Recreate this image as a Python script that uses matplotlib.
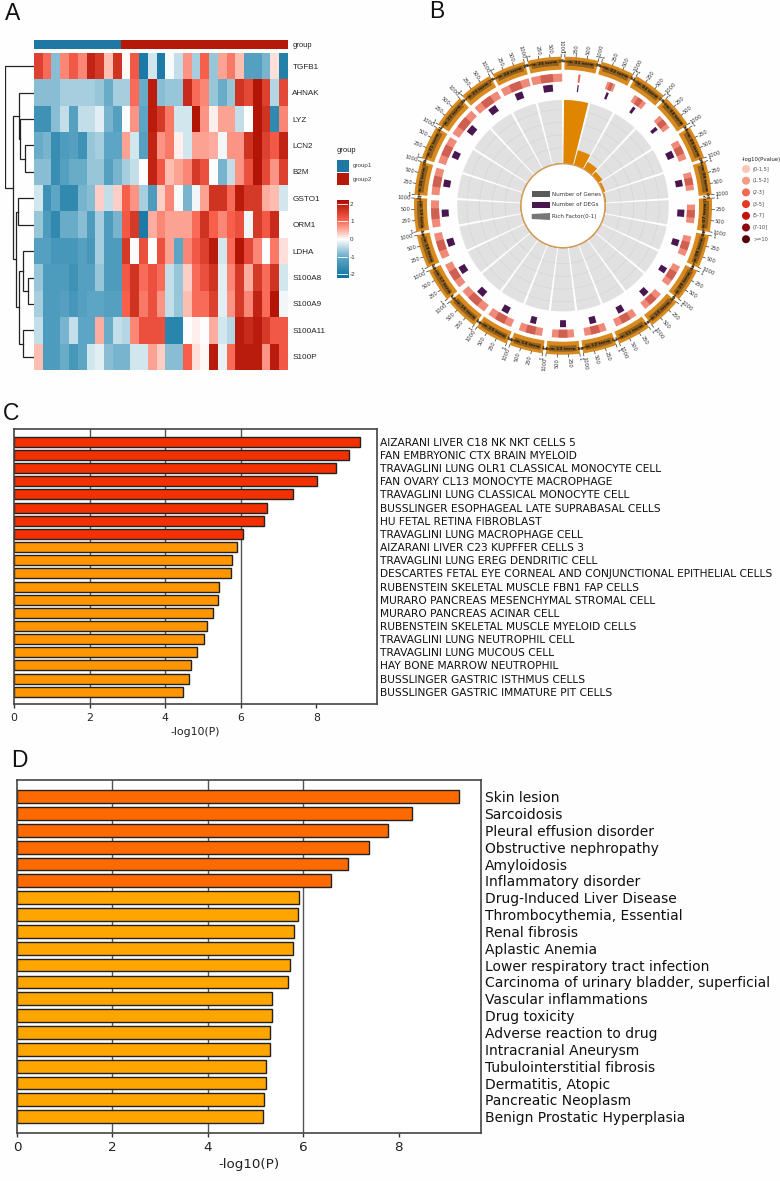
import numpy as np
import matplotlib
matplotlib.use("Agg")
import matplotlib.pyplot as plt
from matplotlib.colors import LinearSegmentedColormap
from matplotlib.patches import Wedge, Circle, Rectangle, Polygon

W, H = 780, 1181

# panel A
genes = ["TGFB1", "AHNAK", "LYZ", "LCN2", "B2M", "GSTO1", "ORM1", "LDHA",
         "S100A8", "S100A9", "S100A11", "S100P"]
n_group1 = 10
heat = [
    [1.5, 1.0, -0.8, 0.8, 1.2, 0.8, 1.9, 1.6, 0.4, 1.7, 0.05, 1.2, -2.0, -0.3, -2.0, -0.05, -0.4, 0.7, -0.6, 1.1, -0.7, 0.6, 0.9, 0.4, -1.2, -1.2, -0.9, 0.2, -1.9],
    [-0.8, -0.8, -0.8, -0.6, -0.6, -0.6, -0.6, -0.7, -1.0, -0.6, -0.6, 1.0, -1.0, 2.0, -0.8, -0.7, -0.7, 1.8, 1.0, 0.8, -0.7, -1.0, -0.7, 1.7, 1.4, 2.1, 1.5, -0.5, 1.4],
    [-1.5, -1.5, -0.8, -0.4, -1.2, -0.4, -0.4, -0.2, -0.9, -1.2, 0.0, 0.7, -1.1, 2.0, 1.6, 0.9, -0.3, -0.3, 2.1, 0.7, 0.1, 0.6, 0.6, -0.4, 0.0, 2.1, 1.7, -1.7, 0.8],
    [-1.0, -0.9, -1.6, -1.3, -1.2, -1.5, -0.7, -0.6, -1.1, -1.1, 0.6, -0.3, -1.2, 1.9, 0.7, 0.9, 0.1, -0.3, 0.6, 0.6, 0.5, -0.1, 0.7, 0.7, 1.7, 2.1, 1.5, 1.2, 1.9],
    [-0.8, -0.8, -1.6, -1.2, -1.0, -1.0, -0.7, -0.7, -1.2, -0.9, -0.6, -0.4, 0.0, 1.9, 1.2, 0.4, 0.6, 0.8, 1.6, 1.3, 0.0, -0.9, -0.4, 0.7, 1.3, 2.1, 1.4, 0.7, 1.5],
    [-0.3, -1.5, -1.1, -1.7, -1.7, -0.9, -0.8, 0.3, -0.4, 0.3, 1.1, 0.7, -0.6, -1.3, 0.3, 0.8, -0.05, -0.9, -0.1, 0.6, 1.7, 1.7, 1.0, 2.0, 1.6, 1.6, 0.5, 0.4, -0.3],
    [-0.7, -1.3, -1.7, -1.0, -1.0, -0.8, -1.3, -0.6, -1.3, -0.9, 1.2, 1.6, -2.0, 0.5, 0.8, 0.6, 0.6, 0.6, 1.0, 1.7, 1.1, 0.8, 1.1, 1.3, -0.1, 1.6, 1.2, 1.8, 0.0],
    [-1.2, -1.2, -1.4, -1.4, -1.4, -1.2, -1.4, -0.6, -1.3, -1.3, 1.6, 0.0, 1.3, 0.0, 1.3, 0.6, -1.1, 0.8, 1.2, 1.5, 2.0, -0.3, 1.0, 2.1, 1.4, 0.8, 0.0, 0.9, 0.2],
    [-0.7, -1.3, -1.3, -1.3, -1.5, -1.2, -1.2, -0.7, -1.3, -1.3, 1.2, 1.7, 1.0, 1.3, 1.0, -0.4, -0.7, 0.3, 1.0, 1.3, 1.7, -0.2, 0.8, 1.6, 0.5, 1.6, 1.0, 1.7, -0.3],
    [-0.6, -1.3, -1.3, -1.2, -1.4, -1.2, -1.1, -1.1, -1.2, -1.2, 1.1, 1.7, 0.9, 1.3, 0.7, -0.4, -0.7, 0.4, 1.0, 1.0, 1.5, -0.2, 0.7, 1.6, 0.8, 1.9, 1.0, 2.1, -0.1],
    [-0.4, -1.3, -1.3, -0.9, -0.4, -1.1, -1.1, 0.5, -1.0, -0.4, -0.5, 0.8, 1.3, 1.3, 1.3, -1.8, -1.8, 0.0, 0.1, 0.0, 0.5, -0.3, -0.5, 2.0, 1.8, 2.0, 1.6, 1.2, 1.2],
    [0.4, -1.3, -1.3, -1.0, -1.4, -1.1, -0.3, -0.2, -0.8, -0.9, -0.9, -0.3, -0.3, 0.6, 0.3, -0.8, -0.8, 1.1, 0.2, 0.05, 2.0, -0.15, 1.0, 2.0, 2.0, 2.0, 0.7, 2.0, 1.2],
]
# row tree as (height, left, right), leaves are row numbers
row_tree = (85, 0,
            (62,
             (43, 1, (40, 2, (25, 3, 4))),
             (52, (45, 5, 6),
              (43, (30, 7, (15, 8, 9)), (30, 10, 11)))))

# panel B
rich_factor = [1.0, 0.24, 0.13, 0.08, 0.04, 0.02, 0.012, 0.01, 0.01, 0.01, 0.01, 0.01, 0.01,
               0.01, 0.01, 0.01, 0.01, 0.01, 0.01, 0.01, 0.01, 0.01, 0.01, 0.01, 0.01]
gene_share = [0.07, 0.26, 0.42, 0.47, 0.62, 0.55, 0.57, 0.62, 0.68, 0.65, 0.70, 0.68, 0.68,
              0.72, 0.78, 0.90, 0.80, 0.80, 0.83, 0.83, 0.85, 0.90, 0.85, 0.90, 0.95]
deg_share = [0.04, 0.08, 0.10, 0.12, 0.24, 0.22, 0.24, 0.22, 0.20, 0.22, 0.22, 0.22, 0.20,
             0.20, 0.24, 0.26, 0.26, 0.26, 0.24, 0.24, 0.24, 0.28, 0.28, 0.26, 0.32]
term_labels = ["term %02d" % (i + 1) for i in range(25)]
scale_labels = ["1", "250", "500", "1000"]
track_names = ["Number of Genes", "Number of DEGs", "Rich Factor(0-1)"]
p_title = "-log10(Pvalue)"
p_labels = ["(0-1.5]", "(1.5-2]", "(2-3]", "(3-5]", "(5-7]", "(7-10]", ">=10"]
p_colors = ["#f9c6b8", "#f49a85", "#ec6b50", "#e03a25", "#c2130f", "#8e0610", "#55000a"]

# panel C
terms_c = ["AIZARANI LIVER C18 NK NKT CELLS 5", "FAN EMBRYONIC CTX BRAIN MYELOID",
           "TRAVAGLINI LUNG OLR1 CLASSICAL MONOCYTE CELL", "FAN OVARY CL13 MONOCYTE MACROPHAGE",
           "TRAVAGLINI LUNG CLASSICAL MONOCYTE CELL", "BUSSLINGER ESOPHAGEAL LATE SUPRABASAL CELLS",
           "HU FETAL RETINA FIBROBLAST", "TRAVAGLINI LUNG MACROPHAGE CELL",
           "AIZARANI LIVER C23 KUPFFER CELLS 3", "TRAVAGLINI LUNG EREG DENDRITIC CELL",
           "DESCARTES FETAL EYE CORNEAL AND CONJUNCTIONAL EPITHELIAL CELLS",
           "RUBENSTEIN SKELETAL MUSCLE FBN1 FAP CELLS", "MURARO PANCREAS MESENCHYMAL STROMAL CELL",
           "MURARO PANCREAS ACINAR CELL", "RUBENSTEIN SKELETAL MUSCLE MYELOID CELLS",
           "TRAVAGLINI LUNG NEUTROPHIL CELL", "TRAVAGLINI LUNG MUCOUS CELL",
           "HAY BONE MARROW NEUTROPHIL", "BUSSLINGER GASTRIC ISTHMUS CELLS",
           "BUSSLINGER GASTRIC IMMATURE PIT CELLS"]
values_c = [9.16, 8.87, 8.51, 8.02, 7.39, 6.69, 6.63, 6.07, 5.90, 5.76,
            5.74, 5.42, 5.41, 5.26, 5.12, 5.02, 4.85, 4.69, 4.64, 4.48]

# panel D
terms_d = ["Skin lesion", "Sarcoidosis", "Pleural effusion disorder", "Obstructive nephropathy",
           "Amyloidosis", "Inflammatory disorder", "Drug-Induced Liver Disease",
           "Thrombocythemia, Essential", "Renal fibrosis", "Aplastic Anemia",
           "Lower respiratory tract infection", "Carcinoma of urinary bladder, superficial",
           "Vascular inflammations", "Drug toxicity", "Adverse reaction to drug",
           "Intracranial Aneurysm", "Tubulointerstitial fibrosis", "Dermatitis, Atopic",
           "Pancreatic Neoplasm", "Benign Prostatic Hyperplasia"]
values_d = [9.27, 8.29, 7.79, 7.38, 6.95, 6.59, 5.92, 5.90, 5.80, 5.78,
            5.73, 5.68, 5.34, 5.34, 5.31, 5.31, 5.22, 5.22, 5.17, 5.15]


def px_axes(fig, left, top, right, bottom):
    return fig.add_axes([left / W, 1 - bottom / H, (right - left) / W, (bottom - top) / H])


def draw_tree(ax, node):
    """Draw one dendrogram node, returns (height, y of the node)"""
    if not isinstance(node, tuple):
        return 0, node
    h, left, right = node
    h1, y1 = draw_tree(ax, left)
    h2, y2 = draw_tree(ax, right)
    ax.plot([h1, h, h, h2], [y1, y1, y2, y2], color="#222222", lw=0.9, solid_joinstyle="miter")
    return h, (y1 + y2) / 2


def plot_heatmap(fig):
    # anchors follow the colour bar of the reference, -2.2 to 2.2
    cmap = LinearSegmentedColormap.from_list(
        "rb", [(0.0, "#0f73a0"), (0.25, "#5ca5c4"), (0.41, "#c5dfe9"), (0.5, "#ffffff"),
               (0.61, "#fdb1a3"), (0.75, "#f8604c"), (1.0, "#ad0e00")])
    data = np.array(heat)

    ax = px_axes(fig, 33.5, 53, 287.5, 370)
    ax.imshow(data, cmap=cmap, vmin=-2.2, vmax=2.2, aspect="auto", interpolation="nearest")
    ax.set_xticks([])
    ax.yaxis.tick_right()
    ax.set_yticks(range(len(genes)), genes, fontsize=5.9, color="#222222", family="Liberation Sans")
    ax.tick_params(axis="y", length=0, pad=3.5)
    for s in ax.spines.values():
        s.set_visible(False)

    top = px_axes(fig, 33.5, 39.5, 287.5, 49)
    top.set_xlim(0, data.shape[1])
    top.set_ylim(0, 1)
    top.barh(0.5, n_group1, height=1, color="#1f78a4")
    top.barh(0.5, data.shape[1] - n_group1, left=n_group1, height=1, color="#b51a08")
    top.axis("off")
    top.text(1.02, 0.4, "group", transform=top.transAxes, fontsize=5.5, va="center",
             family="Liberation Sans", color="#222222")

    dend = px_axes(fig, 5, 53, 33.5, 370)
    dend.set_xlim(85, 0)
    dend.set_ylim(len(genes) - 0.5, -0.5)
    draw_tree(dend, row_tree)
    dend.axis("off")

    # group legend
    ov = px_axes(fig, 330, 140, 380, 290)
    ov.set_xlim(330, 380)
    ov.set_ylim(290, 140)
    ov.axis("off")
    ov.text(337, 150, "group", fontsize=5.5, va="center", family="Liberation Sans", color="#222222")
    ov.add_patch(Rectangle((337, 160), 11.5, 12, color="#1f78a4", lw=0))
    ov.add_patch(Rectangle((337, 173), 11.5, 12, color="#b51a08", lw=0))
    ov.text(353, 166, "group1", fontsize=4.5, va="center", family="Liberation Sans", color="#444444")
    ov.text(353, 179, "group2", fontsize=4.5, va="center", family="Liberation Sans", color="#444444")

    # colour bar
    cax = px_axes(fig, 336.5, 200, 348, 278)
    grad = np.linspace(2.2, -2.2, 100).reshape(-1, 1)
    cax.imshow(grad, cmap=cmap, vmin=-2.2, vmax=2.2, aspect="auto", extent=[0, 1, -2.2, 2.2])
    cax.set_xticks([])
    cax.yaxis.tick_right()
    cax.set_yticks([-2, -1, 0, 1, 2], ["-2", "-1", "0", "1", "2"], fontsize=4.5,
                   family="Liberation Sans", color="#333333")
    cax.tick_params(axis="y", length=0, pad=1.5)
    cax.hlines([-2, -1, 0, 1, 2], 0, 1, color="white", lw=0.6)
    for s in cax.spines.values():
        s.set_visible(False)


def plot_circle(fig):
    cx, cy = 563, 205.7
    ax = px_axes(fig, 400, 0, 780, 380)
    ax.set_xlim(400 - cx, 780 - cx)
    ax.set_ylim(cy - 380, cy)
    ax.axis("off")

    n = len(rich_factor)
    step = 360 / n
    r_in, r_gray = 42, 105.7
    for i in range(n):
        a2 = 90 - i * step
        a1 = a2 - step
        mid = (a1 + a2) / 2

        # inner rich factor track
        ax.add_patch(Wedge((0, 0), r_gray, a1 + 0.6, a2 - 0.6, width=r_gray - r_in,
                           color="#e1e1e1", lw=0))
        for frac in [0.25, 0.45, 0.65, 0.85]:
            r = r_in + frac * (r_gray - r_in)
            ax.add_patch(Wedge((0, 0), r + 0.25, a1 + 0.6, a2 - 0.6, width=0.5,
                               color="#d0d0d0", lw=0))
        r_top = r_in + rich_factor[i] * (r_gray - r_in)
        ax.add_patch(Wedge((0, 0), r_top, a1 + 0.6, a2 - 0.6, width=r_top - r_in,
                           color="#e08500", lw=0))

        # DEG track
        half = deg_share[i] * step / 2
        ax.add_patch(Wedge((0, 0), 121.5, mid - half, mid + half, width=7, color="#4a1650", lw=0))

        # gene track with darker centre
        half = gene_share[i] * step / 2
        ax.add_patch(Wedge((0, 0), 132, mid - half, mid + half, width=8, color="#f08a78", lw=0))
        ax.add_patch(Wedge((0, 0), 132, mid - half * 0.4, mid + half * 0.4, width=8,
                           color="#cf5f50", lw=0))

        # outer ring, the labels sit on a darker band
        ax.add_patch(Wedge((0, 0), 149, a1 + 0.6, a2 - 0.6, width=13, color="#d98a1e", lw=0))
        ax.add_patch(Wedge((0, 0), 146, mid - step * 0.38, mid + step * 0.38, width=6,
                           color="#8f6020", lw=0))
        rot = mid - 90 if np.sin(np.radians(mid)) >= 0 else mid + 90
        tx, ty = 143 * np.cos(np.radians(mid)), 143 * np.sin(np.radians(mid))
        ax.text(tx, ty, term_labels[i] + " " + term_labels[i], fontsize=3.2, color="#2a1a05",
                rotation=rot, rotation_mode="anchor", ha="center", va="center", fontweight="bold")

        # scale ticks and labels
        for j, lab in enumerate(scale_labels):
            a = np.radians(a2 - 0.7 - j * (step - 1.4) / (len(scale_labels) - 1))
            ax.plot([149 * np.cos(a), 151.5 * np.cos(a)], [149 * np.sin(a), 151.5 * np.sin(a)],
                    color="#333333", lw=0.5)
            deg = np.degrees(a)
            left_side = np.cos(a) < 0
            ax.text(152.5 * np.cos(a), 152.5 * np.sin(a), lab, fontsize=3.7, color="#333333",
                    rotation=deg + 180 if left_side else deg, rotation_mode="anchor",
                    ha="right" if left_side else "left", va="center")

    ax.add_patch(Circle((0, 0), r_in, facecolor="white", edgecolor="#cf9a5a", lw=1, zorder=3))

    # centre legend
    lx = [531.7 - cx, 550 - cx]
    ly = [cy - 194, cy - 205, cy - 216.5]
    ax.add_patch(Rectangle((lx[0], ly[0] - 3), lx[1] - lx[0], 6, color="#5a5a5a", lw=0, zorder=4))
    ax.add_patch(Rectangle((lx[0], ly[1] - 3), lx[1] - lx[0], 6, color="#4a1650", lw=0, zorder=4))
    ax.add_patch(Polygon([(lx[0], ly[2] - 2.5), (lx[1], ly[2] - 3.5), (lx[1], ly[2] + 3.5),
                          (lx[0], ly[2] + 2.5)], color="#777777", lw=0, zorder=4))
    for y, name in zip(ly, track_names):
        ax.text(lx[1] + 2.5, y, name, fontsize=4.1, color="#333333", va="center", zorder=4)

    # p value legend
    ax.text(742 - cx, cy - 160, p_title, fontsize=3.9, color="#222222", va="center")
    for k, (lab, col) in enumerate(zip(p_labels, p_colors)):
        y = cy - (169 + k * 11.7)
        ax.add_patch(Circle((746 - cx, y), 4, color=col, lw=0))
        ax.text(753 - cx, y, lab, fontsize=3.6, color="#444444", va="center")


def plot_bars(fig, box, terms, values, n_top, colors, xmax, label_size, tick_size, pad, labelpad):
    ax = px_axes(fig, *box)
    pos = np.arange(len(values))
    bar_colors = [colors[0] if i < n_top else colors[1] for i in pos]
    ax.vlines([2, 4, 6], -2, len(values) + 1, color="#555555", lw=1, zorder=1)
    ax.barh(pos, values, height=0.76, color=bar_colors, edgecolor="#222222", lw=1, zorder=2)
    ax.set_xlim(0, xmax)
    ax.set_ylim(len(values) - 0.05, -0.97)
    ax.set_xticks([0, 2, 4, 6, 8])
    ax.tick_params(axis="x", labelsize=tick_size, length=3, width=1, color="#333333", labelcolor="#222222", pad=3)
    ax.yaxis.tick_right()
    ax.set_yticks(pos, terms, fontsize=label_size, color="#111111")
    ax.tick_params(axis="y", length=0, pad=pad)
    ax.set_xlabel("-log10(P)", fontsize=tick_size, color="#222222", labelpad=labelpad)
    for s in ax.spines.values():
        s.set_color("#444444")
        s.set_linewidth(1.2)


fig = plt.figure(figsize=(W / 100, H / 100), dpi=100, facecolor="#fefefe")

plot_heatmap(fig)
plot_circle(fig)
plot_bars(fig, (14, 429, 376.7, 704.3), terms_c, values_c, 8, ("#f23000", "#ff9500"), 9.6, 7.7, 7.8, 2.4, 3)
plot_bars(fig, (17, 780.3, 481, 1132.7), terms_d, values_d, 6, ("#ff6a00", "#ffa500"), 9.73, 10, 9.7, 2.6, 3)

for letter, x, y in [("A", 5, 20), ("B", 429, 18), ("C", 3, 420), ("D", 11, 767)]:
    fig.text(x / W, 1 - y / H, letter, fontsize=16.5, family="Liberation Sans", color="#111111")

fig.savefig("out.png", dpi=100, facecolor=fig.get_facecolor())
